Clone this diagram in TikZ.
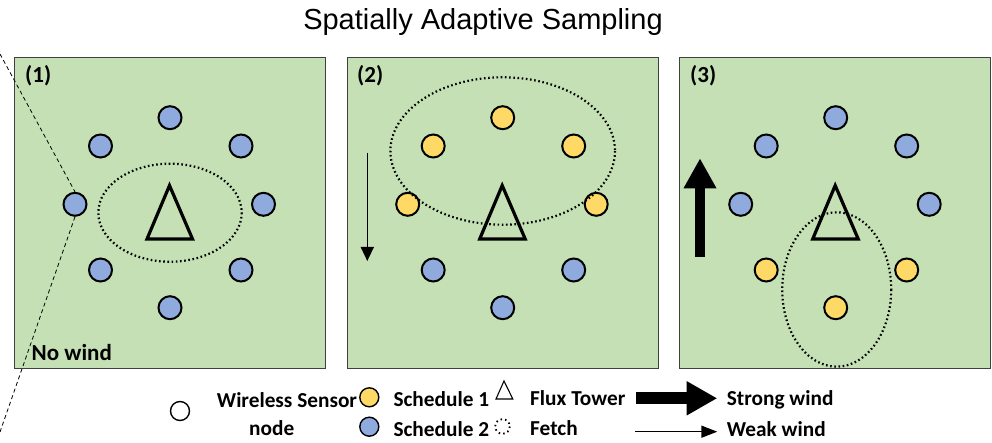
\documentclass[tikz,border=0pt]{standalone}
\usepackage{fontspec}
\setmainfont{Carlito}
\newfontfamily\titlefont{Liberation Sans}
\usetikzlibrary{arrows.meta}

\definecolor{fieldgreen}{HTML}{C5E0B4}
\definecolor{paneledge}{HTML}{404040}
\definecolor{schedA}{HTML}{FFD966}
\definecolor{schedB}{HTML}{8FAADC}

\tikzset{
  panel/.style={fill=fieldgreen, draw=paneledge, line width=0.9pt},
  sensor/.style={circle, draw=black, line width=2pt, minimum size=23pt, inner sep=0pt},
  legsensor/.style={circle, draw=black, line width=1.4pt, minimum size=19pt, inner sep=0pt},
  tower/.style={draw=black, line width=3.2pt, line join=miter},
  fetch/.style={draw=black, line width=2.2pt, dash pattern=on 1.6pt off 2.6pt},
  lbl/.style={font=\fontsize{23}{25}\selectfont\bfseries, inner sep=0pt},
  leg/.style={font=\fontsize{21.3}{23}\selectfont\bfseries, inner sep=0pt, anchor=base west},
  zoomline/.style={draw=black, line width=0.8pt, dash pattern=on 4pt off 3pt}
}

\begin{document}
\begin{tikzpicture}[x=1pt, y=-1pt]
  \useasboundingbox (0,0) rectangle (992,443);

  % title
  \node[font=\titlefont\fontsize{29}{31}\selectfont, inner sep=0pt, anchor=base] (title) at (483,30) {Spatially Adaptive Sampling};

  % three sampling panels
  \node[panel, minimum width=311pt, minimum height=311pt, inner sep=0pt, anchor=north west] (panel1) at (14,57) {};
  \node[panel, minimum width=311pt, minimum height=311pt, inner sep=0pt, anchor=north west] (panel2) at (346.5,57) {};
  \node[panel, minimum width=311pt, minimum height=311pt, inner sep=0pt, anchor=north west] (panel3) at (679,57) {};

  \node[lbl, anchor=base west] (lab1) at (25,83) {(1)};
  \node[lbl, anchor=base west] (lab2) at (357,83) {(2)};
  \node[lbl, anchor=base west] (lab3) at (690,83) {(3)};

  % sensor rings: panel number, centre x, colours of the eight sensors
  \foreach \p/\c/\ct/\cul/\cur/\cl/\cr/\cll/\clr/\cb in {
      1/170/schedB/schedB/schedB/schedB/schedB/schedB/schedB/schedB,
      2/502.7/schedA/schedA/schedA/schedA/schedA/schedB/schedB/schedB,
      3/835.7/schedB/schedB/schedB/schedB/schedB/schedA/schedA/schedA} {
    \node[sensor, fill=\ct]  (s\p t)  at (\c,117.7) {};
    \node[sensor, fill=\cul] (s\p ul) at (\c-69.5,146) {};
    \node[sensor, fill=\cur] (s\p ur) at (\c+71,146) {};
    \node[sensor, fill=\cl]  (s\p l)  at (\c-95,204.3) {};
    \node[sensor, fill=\cr]  (s\p r)  at (\c+93.5,204.3) {};
    \node[sensor, fill=\cll] (s\p ll) at (\c-69.5,270) {};
    \node[sensor, fill=\clr] (s\p lr) at (\c+71,270) {};
    \node[sensor, fill=\cb]  (s\p b)  at (\c,307.7) {};
    % flux tower
    \draw[tower] (\c-0.5,185.5) -- (\c+22.5,239) -- (\c-23,239) -- cycle;
  }

  % fetch areas
  \draw[fetch] (170,212.7) ellipse [x radius=71.7, y radius=49];
  \draw[fetch] (502.7,151) ellipse [x radius=112.3, y radius=73.7];
  \draw[fetch] (836.7,289.5) ellipse [x radius=54.5, y radius=77.2];

  % wind arrows in panels
  \coordinate (weak2a) at (367.3,152.7);
  \coordinate (weak2b) at (367.3,261);
  \draw[line width=1.5pt, -{Triangle[length=14pt, width=13pt]}] (weak2a) -- (weak2b);
  \coordinate (strong3a) at (700,256.7);
  \coordinate (strong3b) at (700,158.3);
  \draw[line width=10.7pt, -{Triangle[length=30pt, width=30.7pt]}] (strong3a) -- (strong3b);

  % zoom lines to the left sensor of panel 1
  \coordinate (zt) at (0,54);
  \coordinate (zb) at (0,432);
  \draw[zoomline] (zt) -- (s1l.north);
  \draw[zoomline] (s1l.south) -- (zb);

  \node[lbl, anchor=base west] (nowind) at (31.5,360) {No wind};

  % legend
  \node[legsensor, fill=white] (legws) at (180,411) {};
  \node[leg, anchor=base] (legwst) at (287,407.3) {Wireless Sensor};
  \node[leg, anchor=base] (legnode) at (271.7,435) {node};
  \node[legsensor, fill=schedA] (legA) at (369.3,397.3) {};
  \node[legsensor, fill=schedB] (legB) at (369.3,426.7) {};
  \node[leg] (legAt) at (393.3,406.5) {Schedule 1};
  \node[leg] (legBt) at (393.3,436.5) {Schedule 2};
  \draw[draw=black, line width=1.1pt] (504,381) -- (512.8,399) -- (496,399) -- cycle;
  \draw[draw=black, line width=1.8pt, dash pattern=on 1.5pt off 3.1pt] (502.5,426.5) circle [radius=7.3];
  \node[leg] (legtow) at (530,405) {Flux Tower};
  \node[leg] (legfet) at (530,435) {Fetch};
  \coordinate (strA) at (636,398.3);
  \coordinate (strB) at (717.3,398.3);
  \draw[line width=11.7pt, -{Triangle[length=30.6pt, width=32pt]}] (strA) -- (strB);
  \coordinate (wkA) at (635,431.7);
  \coordinate (wkB) at (717.3,431.7);
  \draw[line width=1.5pt, -{Triangle[length=16pt, width=12pt]}] (wkA) -- (wkB);
  \node[leg] (legstr) at (726.7,405) {Strong wind};
  \node[leg] (legwk) at (726.7,436.5) {Weak wind};
\end{tikzpicture}
\end{document}
